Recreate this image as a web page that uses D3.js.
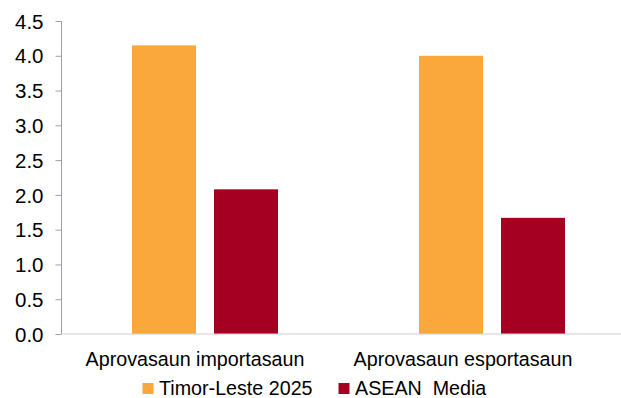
<!DOCTYPE html>
<html><head><meta charset="utf-8">
<script src="https://cdn.jsdelivr.net/npm/d3@7"></script>
<style>body{margin:0;background:#fff}svg{display:block}text{font-family:"Liberation Sans",Arial,sans-serif;fill:#000}</style>
</head><body><svg id="c" width="621" height="398"></svg>
<script>
const categories = ["Aprovasaun importasaun", "Aprovasaun esportasaun"];
const seriesNames = ["Timor-Leste 2025", "ASEAN  Media"];
const timorLeste = [4.15, 4.0];
const aseanMedia = [2.08, 1.67];
const yTicks = [0, 0.5, 1.0, 1.5, 2.0, 2.5, 3.0, 3.5, 4.0, 4.5];
const colors = ["#FAA73B", "#A50021"];

(function () {
const svg = d3.select("#c");
const pLeft = 61.5, pRight = 635.5, pTop = 21, pBottom = 334;
const y = d3.scaleLinear().domain([0, 4.5]).range([pBottom, pTop]);
const x0 = d3.scaleBand().domain(categories).range([pLeft, pRight]).padding(0);
const x1 = d3.scaleBand().domain(seriesNames).range([0, x0.bandwidth()]).paddingInner(0.2195).paddingOuter(0.86);
const values = [timorLeste, aseanMedia];

const yAxis = d3.axisLeft(y).tickValues(yTicks).tickFormat(d3.format(".1f")).tickSize(6).tickPadding(12);
const ga = svg.append("g").attr("transform", `translate(${pLeft},0)`).call(yAxis);
ga.select(".domain").attr("stroke", "#a0a0a0").attr("d", `M0,${pTop}V${pBottom}`);
ga.selectAll(".tick line").attr("stroke", "#a0a0a0");
ga.selectAll(".tick text").style("font-size", "20.5px").attr("fill", "#000").attr("dy", "0.35em");

const groups = svg.append("g").selectAll("g").data(categories).join("g")
  .attr("transform", d => `translate(${x0(d)},0)`);
groups.selectAll("rect").data((d, i) => seriesNames.map((s, j) => ({s, v: values[j][i], c: colors[j]})))
  .join("rect")
  .attr("x", d => x1(d.s)).attr("width", x1.bandwidth())
  .attr("y", d => y(d.v)).attr("height", d => y(0) - y(d.v))
  .attr("fill", d => d.c);

svg.append("line").attr("x1", pLeft).attr("x2", 621).attr("y1", y(0)).attr("y2", y(0))
  .attr("stroke", "#d0d0d0").attr("stroke-width", 1.2);

const labelShift = [-10, -29];
svg.append("g").selectAll("text").data(categories).join("text")
  .attr("x", (d, i) => x0(d) + x0.bandwidth() / 2 + labelShift[i])
  .attr("y", 366).attr("text-anchor", "middle").style("font-size", "19.7px").text(d => d);

const leg = svg.append("g");
const legX = [142.5, 338.5];
seriesNames.forEach((s, i) => {
  leg.append("rect").attr("x", legX[i]).attr("y", 383).attr("width", 11).attr("height", 11).attr("fill", colors[i]);
  leg.append("text").attr("x", legX[i] + 16.5).attr("y", 395).style("font-size", "19.7px").style("white-space", "pre").attr("xml:space", "preserve").text(s);
});
})();
</script></body></html>
